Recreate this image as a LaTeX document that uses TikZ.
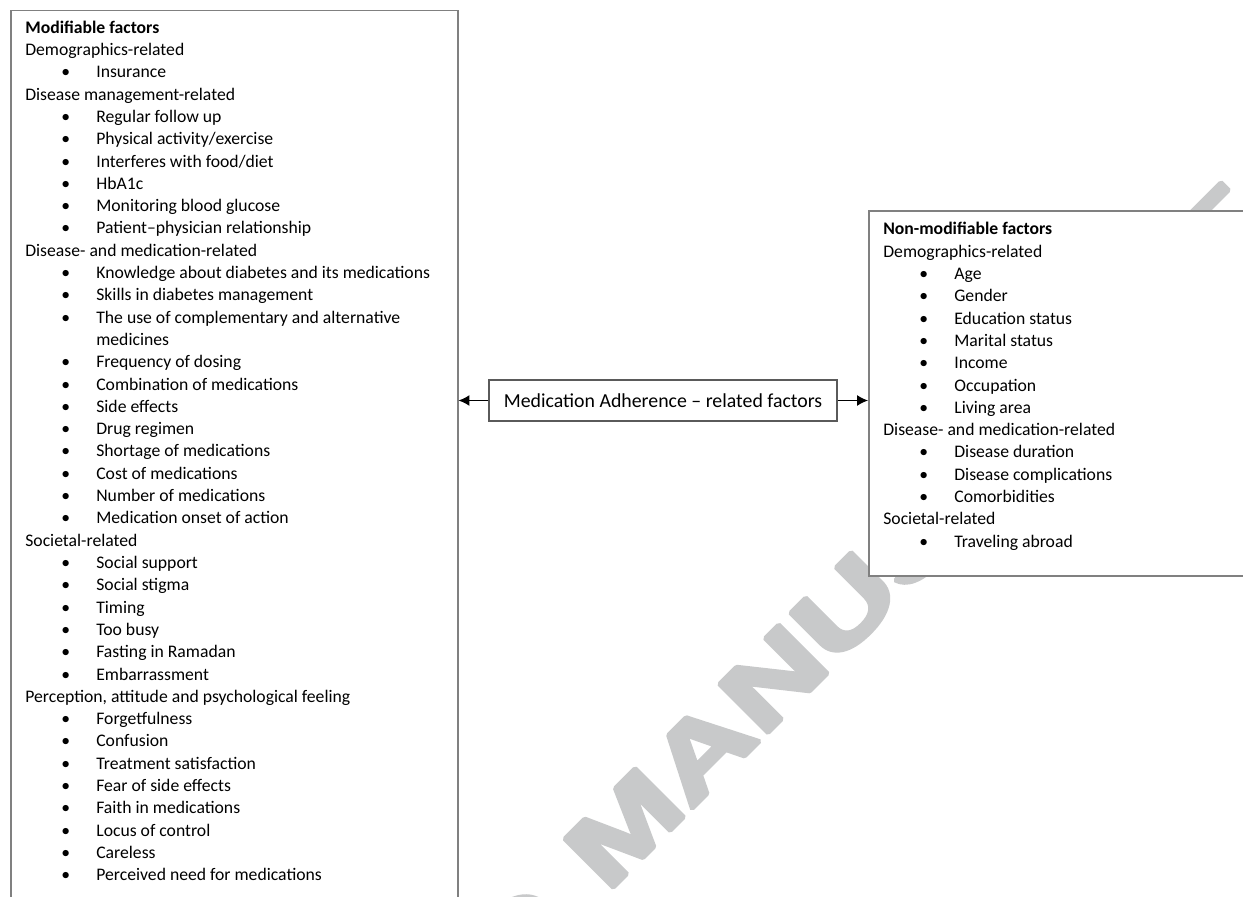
\documentclass[tikz,border=0pt]{standalone}
\usepackage{fontspec}
\setmainfont{Carlito}
\newfontfamily\wmfont[FakeBold=4]{Liberation Sans Bold}
\usetikzlibrary{arrows.meta}
\newcommand\kindB[1]{\textbf{#1}}
\newcommand\kindS[1]{#1}
\newcommand\kindI[1]{\hspace*{21.6pt}\makebox[21pt][l]{\textbullet}#1}
\newcommand\kindC[1]{\hspace*{42.6pt}#1}
\definecolor{wmgray}{RGB}{200,201,202}
\definecolor{boxgray}{RGB}{128,128,128}
\definecolor{midgray}{RGB}{90,90,90}
\begin{document}
\begin{tikzpicture}[x=0.6pt,y=-0.6pt,
  txt/.style={anchor=base west, inner sep=0pt, font=\fontsize{10.6}{12.8}\selectfont},
  wm/.style={inner sep=0pt, text=wmgray, font=\wmfont\fontsize{60.3}{66}\selectfont},
  bigbox/.style={draw=boxgray, line width=0.9pt, fill=white, inner sep=0pt},
  midbox/.style={draw=midgray, line width=0.7pt, fill=white, inner sep=0pt,
    minimum width=208.8pt, minimum height=24.6pt, font=\fontsize{11.9}{14}\selectfont},
  conn/.style={line width=0.8pt, -{Latex[length=6.5pt,width=6.5pt]}}]
\useasboundingbox (0,0) rectangle (1243,897);
\fill[white] (0,0) rectangle (1243,897);
\clip (0,0) rectangle (1243,897);
% watermark
\begin{scope}[line join=bevel]
\node[wm, anchor=base west, rotate=45] (wm) at (607.1,894)
  {\scalebox{1.4}[1]{\llap{ACCEPTED\ \kern3pt}MANUSCRIPT}};
\end{scope}
% boxes
\node[bigbox, anchor=north west, minimum width=268.2pt, minimum height=546pt] (leftbox) at (10,10) {};
\node[bigbox, anchor=north west, minimum width=240pt, minimum height=219pt] (rightbox) at (868,210.5) {};
\node[midbox] (center) at (663,400.5) {Medication Adherence -- related factors};
% left list
\foreach \t/\s [count=\i from 0] in {
 B/Modifiable factors,
 S/Demographics-related,
 I/Insurance,
 S/Disease management-related,
 I/Regular follow up,
 I/Physical activity\slash exercise,
 I/Interferes with food\slash diet,
 I/HbA1c,
 I/Monitoring blood glucose,
 I/Patient--physician relationship,
 S/Disease- and medication-related,
 I/Knowledge about diabetes and its medications,
 I/Skills in diabetes management,
 I/The use of complementary and alternative,
 C/medicines,
 I/Frequency of dosing,
 I/Combination of medications,
 I/Side effects,
 I/Drug regimen,
 I/Shortage of medications,
 I/Cost of medications,
 I/Number of medications,
 I/Medication onset of action,
 S/Societal-related,
 I/Social support,
 I/Social stigma,
 I/Timing,
 I/Too busy,
 I/Fasting in Ramadan,
 I/Embarrassment,
 {S/Perception{,} attitude and psychological feeling},
 I/Forgetfulness,
 I/Confusion,
 I/Treatment satisfaction,
 I/Fear of side effects,
 I/Faith in medications,
 I/Locus of control,
 I/Careless,
 I/Perceived need for medications}
 \node[txt] (L\i) at (25,{33.3+22.3*\i}) {\csname kind\t\endcsname{\s}};
% right list
\foreach \t/\s [count=\i from 0] in {
 B/Non-modifiable factors,
 S/Demographics-related,
 I/Age,
 I/Gender,
 I/Education status,
 I/Marital status,
 I/Income,
 I/Occupation,
 I/Living area,
 S/Disease- and medication-related,
 I/Disease duration,
 I/Disease complications,
 I/Comorbidities,
 S/Societal-related,
 I/Traveling abroad}
 \node[txt] (R\i) at (883,{235+22.3*\i}) {\csname kind\t\endcsname{\s}};
% connectors
\draw[conn] (center.west) -- (center.west -| leftbox.east);
\draw[conn] (center.east) -- (center.east -| rightbox.west);
\end{tikzpicture}
\end{document}
